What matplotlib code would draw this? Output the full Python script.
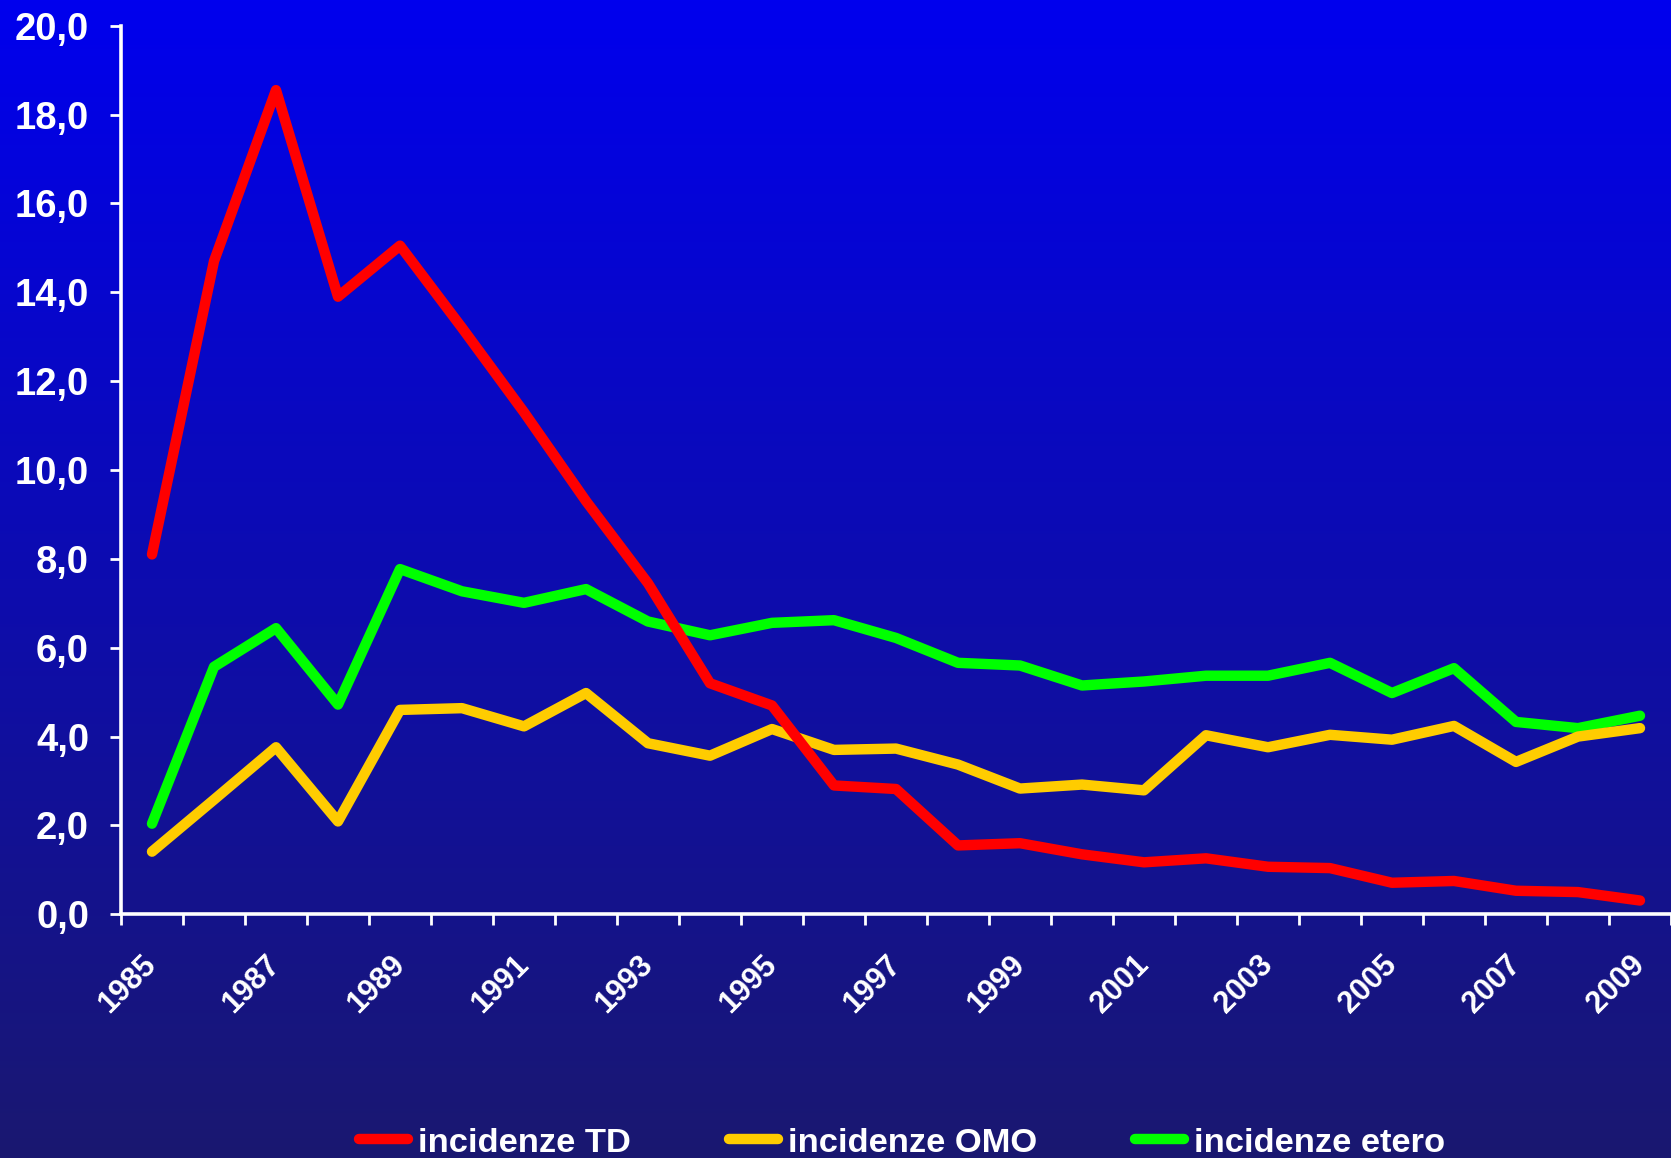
import matplotlib
matplotlib.use('Agg')
import matplotlib.pyplot as plt
import numpy as np
from matplotlib.lines import Line2D

# ---- data ----
years = list(range(1985, 2010))
incid_td = [8.1, 14.7, 18.55, 13.9, 15.05, 13.2, 11.3, 9.3, 7.45, 5.2, 4.7, 2.9, 2.82,
            1.55, 1.6, 1.35, 1.17, 1.26, 1.07, 1.04, 0.71, 0.75, 0.53, 0.5, 0.31]
incid_omo = [1.41, 2.58, 3.76, 2.09, 4.6, 4.64, 4.23, 4.98, 3.85, 3.57, 4.17, 3.7, 3.73,
             3.37, 2.83, 2.92, 2.79, 4.03, 3.76, 4.04, 3.93, 4.24, 3.43, 4.0, 4.19]
incid_etero = [2.04, 5.57, 6.44, 4.72, 7.77, 7.27, 7.01, 7.32, 6.59, 6.28, 6.56, 6.62, 6.22,
               5.66, 5.6, 5.15, 5.24, 5.37, 5.37, 5.66, 4.98, 5.54, 4.33, 4.19, 4.47]
y_ticks = [0, 2, 4, 6, 8, 10, 12, 14, 16, 18, 20]
y_labels = ['0,0', '2,0', '4,0', '6,0', '8,0', '10,0', '12,0', '14,0', '16,0', '18,0', '20,0']
x_labels = [str(y) for y in years[::2]]
series_labels = ['incidenze TD', 'incidenze OMO', 'incidenze etero']
colors = ['#FF0000', '#FFCC00', '#00FF00']

plt.rcParams['font.family'] = ['Liberation Sans', 'DejaVu Sans']
plt.rcParams['font.weight'] = 'bold'

W, H = 1671, 1158
fig = plt.figure(figsize=(W / 100, H / 100), dpi=100)

# gradient background
bg = fig.add_axes([0, 0, 1, 1], zorder=-10)
top = np.array([0, 0, 238]) / 255.0
bot = np.array([26, 24, 112]) / 255.0
t = np.linspace(0, 1, 512)[:, None]
grad = top * (1 - t) + bot * t
bg.imshow(np.repeat(grad[:, None, :], 2, axis=1), aspect='auto',
          extent=[0, 1, 0, 1], origin='upper')
bg.set_axis_off()

# main axes
x0_px, y_top_px, y0_px = 121, 25.7, 914.3
step_px = 62.35
ax = fig.add_axes([x0_px / W, 1 - y0_px / H, 1 - x0_px / W, (y0_px - y_top_px) / H])
ax.patch.set_alpha(0)

x = np.arange(len(years))
series = [incid_td, incid_omo, incid_etero]
zorders = [5, 4, 3]
for vals, c, lab, z in zip(series, colors, series_labels, zorders):
    ax.plot(x, vals, color=c, lw=7.5, solid_capstyle='round',
            solid_joinstyle='round', label=lab, zorder=z, clip_on=False)

ax.set_xlim(-0.5, -0.5 + (W - x0_px) / step_px)
ax.set_ylim(0, 20)

for s in ['top', 'right']:
    ax.spines[s].set_visible(False)
for s in ['left', 'bottom']:
    ax.spines[s].set_color('white')
    ax.spines[s].set_linewidth(2.6)

ax.set_xticks(np.arange(-0.5, len(years), 1))
ax.tick_params(axis='x', which='major', length=8, width=2, color='white',
               labelbottom=False, direction='out')
ax.set_xticks(x[::2], x_labels, minor=True)
ax.tick_params(axis='x', which='minor', length=0, pad=33, labelsize=22,
               labelcolor='white')
for lbl in ax.get_xticklabels(minor=True):
    lbl.set_rotation(45)
    lbl.set_ha('right')
    lbl.set_va('center')
    lbl.set_rotation_mode('anchor')
    lbl.set_fontweight('bold')

ax.set_yticks(y_ticks, y_labels)
ax.tick_params(axis='y', length=8, width=2, color='white', labelsize=27.5,
               labelcolor='white', pad=15)
for lbl in ax.get_yticklabels():
    lbl.set_fontweight('bold')

handles = [Line2D([0], [0], color=c, lw=7.5, solid_capstyle='round') for c in colors]
fig.legend(handles, series_labels, loc='center', bbox_to_anchor=(0.540, 0.013),
           ncol=3, frameon=False, labelcolor='white',
           handlelength=1.42, handletextpad=0.29, columnspacing=2.85,
           prop={'weight': 'bold', 'size': 24.8})

fig.savefig('out.png', dpi=100)
